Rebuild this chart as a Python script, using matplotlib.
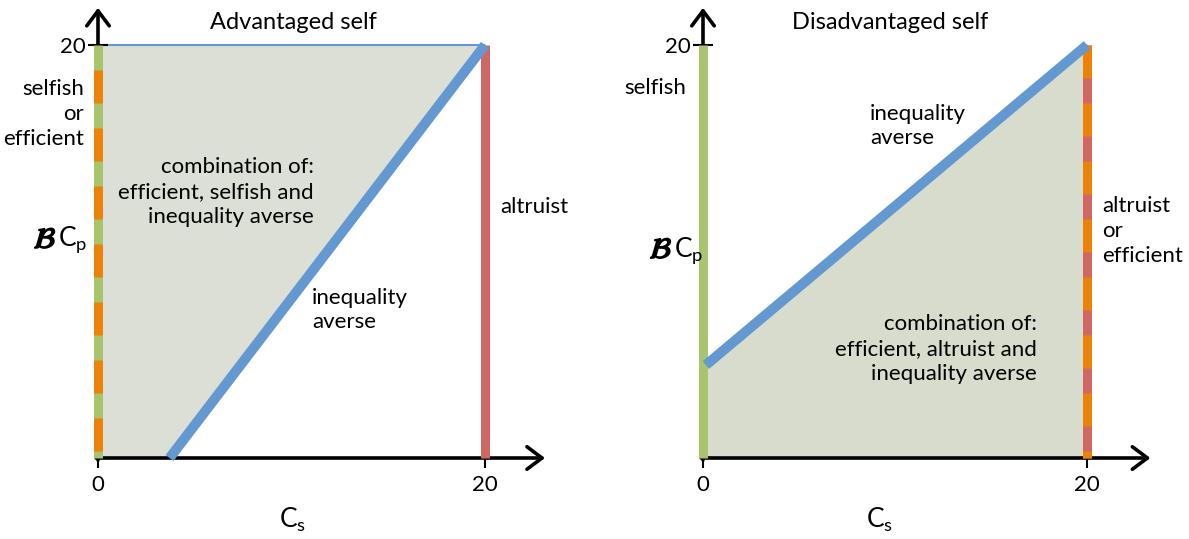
import matplotlib
matplotlib.use('Agg')
import matplotlib.pyplot as plt
from matplotlib.patches import Polygon
from matplotlib import patheffects as pe

plt.rcParams['font.family'] = ['Lato', 'DejaVu Sans']
plt.rcParams['lines.scale_dashes'] = False
plt.rcParams['mathtext.fontset'] = 'custom'
plt.rcParams['mathtext.rm'] = 'Lato'

# data (both axes run 0..20)
AX_MAX = 20
left_cut = 3.7        # where the inequality-averse line leaves the x axis (advantaged)
right_start = 4.5     # where it meets the y axis (disadvantaged)
titles = ["Advantaged self", "Disadvantaged self"]
x_ticks = [0, 20]
y_ticks = [20]

GREEN = '#a8c46e'
ORANGE = '#ee8208'
RED = '#cf6763'
BLUE = '#6399d0'
FILL_L = '#dcdfd6'
FILL_R = '#d8dccc'

W, H = 1189, 539
fig = plt.figure(figsize=(W / 100, H / 100), dpi=100)
ax_l = fig.add_axes([98 / W, (H - 458) / H, 387 / W, 413 / H])
ax_r = fig.add_axes([703 / W, (H - 458) / H, 384 / W, 413 / H])

FS = 16
LS = 1.3
px2pt = 72 / 100


def base(ax, x_arrow, y_arrow, title, title_x):
    ax.set_xlim(0, AX_MAX)
    ax.set_ylim(0, AX_MAX)
    for s in ax.spines.values():
        s.set_visible(False)
    ax.patch.set_visible(False)
    ax.set_xticks(x_ticks)
    ax.set_xticklabels([str(v) for v in x_ticks], fontsize=FS)
    ax.set_yticks(y_ticks)
    ax.set_yticklabels([str(v) for v in y_ticks], fontsize=FS)
    ax.tick_params(axis='x', direction='inout', length=14, width=1.5, pad=5)
    ax.tick_params(axis='y', direction='inout', length=14, width=1.5, pad=2)
    arrow = dict(arrowstyle='->, head_length=0.6, head_width=0.45', lw=2.6,
                 color='black', mutation_scale=18, shrinkA=0, shrinkB=0)
    ax.annotate('', xy=(x_arrow, 0), xytext=(-0.1, 0), arrowprops=arrow,
                annotation_clip=False, zorder=2)
    ax.annotate('', xy=(0, y_arrow), xytext=(0, -0.1), arrowprops=arrow,
                annotation_clip=False, zorder=2)
    ax.text(title_x, 21.1, title, fontsize=FS + 1, ha='center', va='center')


def dashed_axis_line(ax, x, color, offset):
    # solid base colour with orange dashes on top, drawn from the top down
    ax.plot([x, x], [AX_MAX, 0], color=color, lw=9 * px2pt,
            solid_capstyle='butt', zorder=3, clip_on=False)
    ax.plot([x, x], [AX_MAX, 0], color=ORANGE, lw=9 * px2pt,
            linestyle=(offset, (33 * px2pt, 25 * px2pt)),
            dash_capstyle='butt', zorder=4, clip_on=False)


def bcp(ax, x, y):
    ax.text(x, y, r'$\mathcal{B}$', fontsize=FS + 5, ha='right', va='center',
            math_fontfamily='stix', clip_on=False,
            path_effects=[pe.withStroke(linewidth=1.2, foreground='black')])
    ax.text(x + 0.08, y, r'C$_\mathrm{p}$', fontsize=FS + 3, ha='left',
            va='center', clip_on=False)


# ---------- left: advantaged self ----------
ax = ax_l
base(ax, 23.1, 21.8, titles[0], 10.08)
ax.add_patch(Polygon([(0, 0), (left_cut, 0), (AX_MAX, AX_MAX), (0, AX_MAX)],
                     closed=True, facecolor=FILL_L, edgecolor=BLUE, lw=1.5,
                     zorder=1, clip_on=False))
ax.plot([AX_MAX, AX_MAX], [0, AX_MAX], color=RED, lw=9 * px2pt,
        solid_capstyle='butt', zorder=3, clip_on=False)
dashed_axis_line(ax, 0, GREEN, 33 * px2pt)
ax.plot([left_cut, AX_MAX], [0, AX_MAX], color=BLUE, lw=10 * px2pt,
        solid_capstyle='butt', zorder=5, clip_on=False)

ax.text(-0.72, 16.66, "selfish\nor\nefficient", fontsize=FS, ha='right',
        va='center', multialignment='right', linespacing=LS)
ax.text(11.16, 12.88, "combination of:\nefficient, selfish and\ninequality averse",
        fontsize=FS, ha='right', va='center', multialignment='right',
        linespacing=LS)
ax.text(11.06, 7.17, "inequality\naverse", fontsize=FS, ha='left', va='center',
        linespacing=LS)
ax.text(20.78, 12.15, "altruist", fontsize=FS, ha='left', va='center')
ax.text(10.08, -3.0, r'C$_\mathrm{s}$', fontsize=FS + 3, ha='center',
        va='center', clip_on=False)
bcp(ax, -2.15, 10.56)

# ---------- right: disadvantaged self ----------
ax = ax_r
base(ax, 23.3, 21.8, titles[1], 9.74)
ax.add_patch(Polygon([(0, 0), (AX_MAX, 0), (AX_MAX, AX_MAX), (0, right_start)],
                     closed=True, facecolor=FILL_R, edgecolor=BLUE, lw=1.5,
                     zorder=1, clip_on=False))
ax.plot([0, 0], [0, AX_MAX], color=GREEN, lw=9 * px2pt,
        solid_capstyle='butt', zorder=3, clip_on=False)
dashed_axis_line(ax, AX_MAX, RED, 0)
ax.plot([0.15, AX_MAX], [right_start, AX_MAX], color=BLUE, lw=10 * px2pt,
        solid_capstyle='butt', zorder=5, clip_on=False)

ax.text(-0.89, 17.92, "selfish", fontsize=FS, ha='right', va='center')
ax.text(8.70, 16.08, "inequality\naverse", fontsize=FS, ha='left', va='center',
        linespacing=LS)
ax.text(20.78, 10.99, "altruist\nor\nefficient", fontsize=FS, ha='left',
        va='center', linespacing=LS)
ax.text(17.4, 5.28, "combination of:\nefficient, altruist and\ninequality averse",
        fontsize=FS, ha='right', va='center', multialignment='right',
        linespacing=LS)
ax.text(9.22, -3.0, r'C$_\mathrm{s}$', fontsize=FS + 3, ha='center',
        va='center', clip_on=False)
bcp(ax, -1.6, 10.07)

fig.savefig('out.png', dpi=100)
